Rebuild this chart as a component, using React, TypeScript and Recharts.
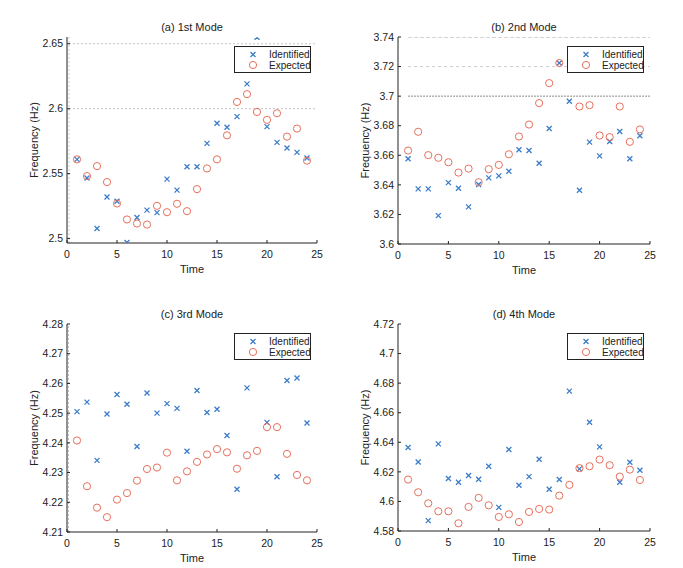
import { ScatterChart, Scatter, XAxis, YAxis, ReferenceLine } from "recharts";

const BLUE = "#3b7cc9";
const RED = "#e8705c";
const INK = "#222";

const TIME = [1, 2, 3, 4, 5, 6, 7, 8, 9, 10, 11, 12, 13, 14, 15, 16, 17, 18, 19, 20, 21, 22, 23, 24];
const X_TICKS = [0, 5, 10, 15, 20, 25];

// (a) 1st mode
const MODE1_IDENTIFIED = [2.561, 2.5466, 2.5077, 2.532, 2.5288, 2.497, 2.5162, 2.5219, 2.52, 2.5458, 2.5373, 2.5553, 2.5553, 2.5733, 2.5888, 2.5857, 2.5939, 2.6191, 2.655, 2.5862, 2.5741, 2.5697, 2.5664, 2.562];
const MODE1_EXPECTED = [2.561, 2.5481, 2.5558, 2.5435, 2.527, 2.5147, 2.5116, 2.5108, 2.5252, 2.5203, 2.5268, 2.5211, 2.5381, 2.554, 2.561, 2.5795, 2.6052, 2.6112, 2.5975, 2.5914, 2.5965, 2.5785, 2.5847, 2.56];
const MODE1_TICKS = [2.5, 2.55, 2.6, 2.65];

// (b) 2nd mode
const MODE2_IDENTIFIED = [3.6576, 3.6373, 3.6373, 3.6192, 3.6415, 3.6377, 3.6251, 3.6402, 3.6447, 3.6461, 3.6492, 3.6637, 3.6632, 3.6546, 3.6781, 3.7224, 3.6966, 3.6364, 3.6689, 3.6596, 3.6693, 3.6761, 3.6576, 3.6732];
const MODE2_EXPECTED = [3.6632, 3.6759, 3.6601, 3.6583, 3.6553, 3.6483, 3.651, 3.6418, 3.6506, 3.6535, 3.6607, 3.6727, 3.6808, 3.6953, 3.7088, 3.7224, null, 3.693, 3.6939, 3.6734, 3.6723, 3.693, 3.6691, 3.6775];
const MODE2_TICKS = [3.6, 3.62, 3.64, 3.66, 3.68, 3.7, 3.72, 3.74];

// (c) 3rd mode
const MODE3_IDENTIFIED = [4.2505, 4.2537, 4.2341, 4.2497, 4.2563, 4.253, 4.2388, 4.2568, 4.25, 4.2532, 4.2516, 4.2372, 4.2576, 4.2502, 4.2513, 4.2425, 4.2244, 4.2585, null, 4.2469, 4.2286, 4.261, 4.2618, 4.2467];
const MODE3_EXPECTED = [4.2408, 4.2254, 4.2182, 4.215, 4.2209, 4.2231, 4.2273, 4.2312, 4.2317, 4.2367, 4.2274, 4.2304, 4.2336, 4.2361, 4.2379, 4.2368, 4.2313, 4.2358, 4.2373, 4.2453, 4.2453, 4.2363, 4.2292, 4.2274];
const MODE3_TICKS = [4.21, 4.22, 4.23, 4.24, 4.25, 4.26, 4.27, 4.28];

// (d) 4th mode
const MODE4_IDENTIFIED = [4.6365, 4.6267, 4.587, 4.6389, 4.6155, 4.613, 4.6175, 4.615, 4.6238, 4.596, 4.6351, 4.6109, 4.6168, 4.6285, 4.6082, 4.6148, 4.6746, 4.622, 4.6536, 4.6369, null, 4.613, 4.6265, 4.6211];
const MODE4_EXPECTED = [4.6148, 4.6062, 4.5987, 4.5933, 4.5933, 4.5852, 4.5963, 4.6024, 4.5974, 4.5895, 4.5913, 4.5861, 4.5929, 4.5949, 4.5945, 4.6039, 4.6112, 4.6225, 4.6238, 4.6283, 4.6245, 4.6168, 4.6215, 4.6145];
const MODE4_TICKS = [4.58, 4.6, 4.62, 4.64, 4.66, 4.68, 4.7, 4.72];

const toPoints = (vals: (number | null)[]) =>
  TIME.map((t, i) => ({ t, v: vals[i] })).filter((p) => p.v != null);

const Cross = (props: any) => {
  const { cx, cy } = props;
  if (cx == null || cy == null) return null;
  const s = 2.5;
  return (
    <path
      d={`M${cx - s},${cy - s}L${cx + s},${cy + s}M${cx - s},${cy + s}L${cx + s},${cy - s}`}
      stroke={BLUE}
      strokeWidth={1.3}
      fill="none"
    />
  );
};

const Ring = (props: any) => {
  const { cx, cy } = props;
  if (cx == null || cy == null) return null;
  return <circle cx={cx} cy={cy} r={3.6} stroke={RED} strokeWidth={1} fill="none" />;
};

function LegendBox() {
  const row = { position: "absolute" as const, left: 34, fontSize: 10, lineHeight: "11px", whiteSpace: "nowrap" as const };
  return (
    <div
      style={{
        position: "absolute",
        right: 6,
        top: 9,
        width: 77,
        height: 27,
        boxSizing: "border-box",
        border: `1px solid ${INK}`,
        background: "#fff",
        color: INK,
      }}
    >
      <svg width={30} height={25} style={{ position: "absolute", left: 0, top: 0 }}>
        <Cross cx={18} cy={7.5} />
        <Ring cx={18} cy={18} />
      </svg>
      <div style={{ ...row, top: 2 }}>Identified</div>
      <div style={{ ...row, top: 13 }}>Expected</div>
    </div>
  );
}

type Line = { y?: number; x?: number; from?: number; color: string; dash: string };

function Panel({ left, top, w, h, title, identified, expected, domain, ticks, lines }: any) {
  const ML = 67, MT = 37, MR = 24, MB = 41;
  const axisTick = { fill: INK, fontSize: 10.5 };
  return (
    <div style={{ position: "absolute", left: left - ML, top: top - MT, width: w + ML + MR, height: h + MT + MB }}>
      <div style={{ position: "absolute", left: ML, width: w, top: MT - 16, textAlign: "center", fontSize: 11, color: INK }}>
        {title}
      </div>
      <ScatterChart width={w + ML + MR} height={h + MT + MB} margin={{ top: MT, right: MR, bottom: 0, left: 27 }}>
        <XAxis
          type="number"
          dataKey="t"
          domain={[0, 25]}
          ticks={X_TICKS}
          allowDataOverflow
          height={MB}
          tickSize={-3}
          tickMargin={11}
          tick={axisTick}
          stroke={INK}
          label={{ value: "Time", position: "insideBottom", offset: 11, fill: INK, fontSize: 11 }}
        />
        <XAxis xAxisId="top" orientation="top" type="number" domain={[0, 25]} ticks={X_TICKS} allowDataOverflow height={0} tickSize={-3} tick={false} stroke={INK} />
        <YAxis
          type="number"
          dataKey="v"
          domain={domain}
          ticks={ticks}
          allowDataOverflow
          width={40}
          tickSize={-3}
          tickMargin={7}
          tick={axisTick}
          stroke={INK}
          label={{ value: "Frequency (Hz)", angle: -90, position: "insideLeft", offset: 7, fill: INK, fontSize: 11, style: { textAnchor: "middle" } }}
        />
        <YAxis yAxisId="right" orientation="right" type="number" domain={domain} ticks={ticks} allowDataOverflow width={0} tickSize={-3} tick={false} stroke={INK} />
        {lines.map((l: Line, i: number) =>
          l.y != null ? (
            <ReferenceLine key={i} segment={[{ x: l.from ?? 0, y: l.y }, { x: 25, y: l.y }]} stroke={l.color} strokeDasharray={l.dash} ifOverflow="hidden" />
          ) : (
            <ReferenceLine key={i} x={l.x} stroke={l.color} strokeDasharray={l.dash} />
          )
        )}
        <Scatter data={toPoints(identified)} shape={<Cross />} isAnimationActive={false} />
        <Scatter data={toPoints(expected)} shape={<Ring />} isAnimationActive={false} />
      </ScatterChart>
      <div style={{ position: "absolute", left: ML, top: MT, width: w, height: h, pointerEvents: "none" }}>
        <LegendBox />
      </div>
    </div>
  );
}

export default function App() {
  return (
    <div style={{ position: "absolute", left: 0, top: 0, width: 683, height: 568, background: "#fff", fontFamily: "'Liberation Sans', Arial, sans-serif" }}>
      <Panel
        left={67} top={37} w={250} h={206}
        title="(a) 1st Mode"
        identified={MODE1_IDENTIFIED} expected={MODE1_EXPECTED}
        domain={[2.4966, 2.6552]} ticks={MODE1_TICKS}
        lines={[
          { y: 2.65, from: 0.2, color: "#c4c4c4", dash: "2 2" },
          { y: 2.6, from: 0.2, color: "#c4c4c4", dash: "2 2" },
          { x: 0.2, color: "#d0d0d0", dash: "2 2" },
        ]}
      />
      <Panel
        left={398} top={37} w={252} h={207}
        title="(b) 2nd Mode"
        identified={MODE2_IDENTIFIED} expected={MODE2_EXPECTED}
        domain={[3.6, 3.74]} ticks={MODE2_TICKS}
        lines={[
          { y: 3.74, from: 1, color: "#a8a8a8", dash: "4 2" },
          { y: 3.72, from: 1, color: "#cccccc", dash: "3 3" },
          { y: 3.7, from: 1, color: "#8a8a8a", dash: "2 1" },
        ]}
      />
      <Panel
        left={67} top={324} w={250} h={208}
        title="(c) 3rd Mode"
        identified={MODE3_IDENTIFIED} expected={MODE3_EXPECTED}
        domain={[4.21, 4.28]} ticks={MODE3_TICKS}
        lines={[{ x: 0.15, color: "#c4c4c4", dash: "2 2" }]}
      />
      <Panel
        left={398} top={324} w={252} h={207}
        title="(d) 4th Mode"
        identified={MODE4_IDENTIFIED} expected={MODE4_EXPECTED}
        domain={[4.58, 4.72]} ticks={MODE4_TICKS}
        lines={[]}
      />
    </div>
  );
}
